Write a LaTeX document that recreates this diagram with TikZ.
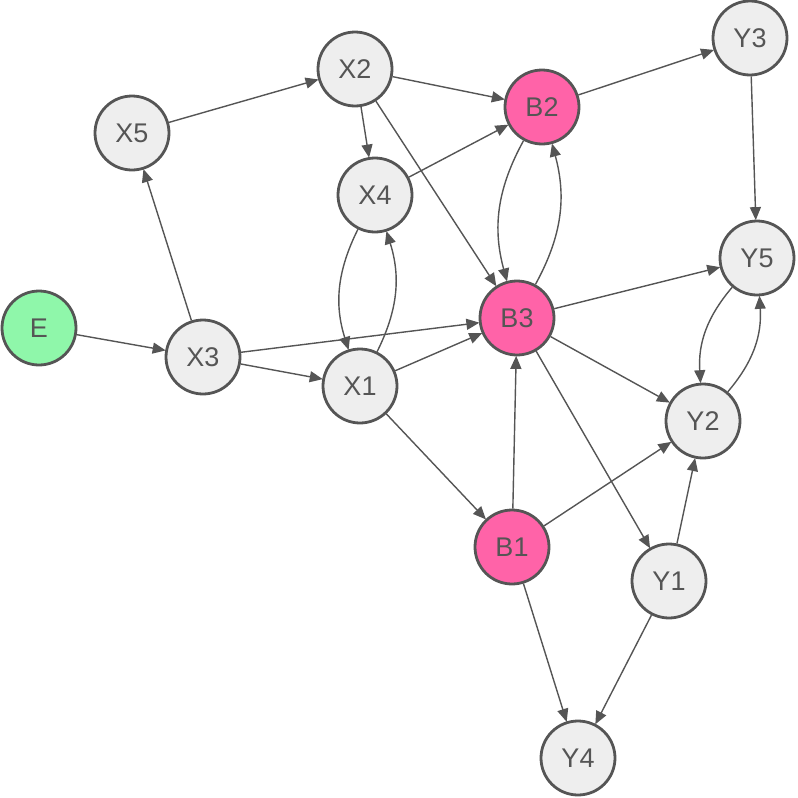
\documentclass[tikz,border=0pt]{standalone}
\usepackage{fontspec}
\setmainfont{Liberation Sans}
\usetikzlibrary{arrows.meta}
\definecolor{edgec}{HTML}{555555}
\definecolor{grayfill}{HTML}{EEEEEE}
\definecolor{pinkfill}{HTML}{FF63A8}
\definecolor{greenfill}{HTML}{8FF7AA}
\tikzset{
  vnode/.style={circle, draw=edgec, line width=2.8pt, minimum size=74pt, inner sep=0pt, fill=grayfill, text=edgec, font=\fontsize{27}{27}\selectfont},
  pnode/.style={vnode, fill=pinkfill},
  gnode/.style={vnode, fill=greenfill},
  arr/.style={draw=edgec, line width=1.4pt, -{Triangle[length=13pt,width=11pt]}, shorten >=-0.5pt},
}
\begin{document}
\begin{tikzpicture}[x=1pt,y=1pt]
\useasboundingbox (0,0) rectangle (798,-798);
\node[gnode] (E) at (39,-328) {E};
\node[vnode] (X3) at (203,-357) {X3};
\node[vnode] (X5) at (132,-133) {X5};
\node[vnode] (X2) at (355,-69) {X2};
\node[vnode] (X4) at (375,-195) {X4};
\node[vnode] (X1) at (360,-386) {X1};
\node[pnode] (B2) at (542,-107) {B2};
\node[pnode] (B3) at (517,-318) {B3};
\node[pnode] (B1) at (512,-547) {B1};
\node[vnode] (Y3) at (750,-38) {Y3};
\node[vnode] (Y5) at (757,-258) {Y5};
\node[vnode] (Y2) at (703,-421) {Y2};
\node[vnode] (Y1) at (669,-581) {Y1};
\node[vnode] (Y4) at (578,-758) {Y4};
\draw[arr] (E) -- (X3);
\draw[arr] (X3) -- (X5);
\draw[arr] (X3) -- (B3);
\draw[arr] (X3) -- (X1);
\draw[arr] (X5) -- (X2);
\draw[arr] (X2) -- (B2);
\draw[arr] (X2) -- (X4);
\draw[arr] (X2) -- (B3);
\draw[arr] (X4) -- (B2);
\draw[arr] (X4) to[bend right=22] (X1);
\draw[arr] (X1) to[bend right=22] (X4);
\draw[arr] (X1) -- (B3);
\draw[arr] (X1) -- (B1);
\draw[arr] (B2) to[bend right=22] (B3);
\draw[arr] (B3) to[bend right=22] (B2);
\draw[arr] (B2) -- (Y3);
\draw[arr] (B3) -- (Y5);
\draw[arr] (B3) -- (Y2);
\draw[arr] (B3) -- (Y1);
\draw[arr] (B1) -- (B3);
\draw[arr] (B1) -- (Y2);
\draw[arr] (B1) -- (Y4);
\draw[arr] (Y1) -- (Y2);
\draw[arr] (Y1) -- (Y4);
\draw[arr] (Y3) -- (Y5);
\draw[arr] (Y5) to[bend right=22] (Y2);
\draw[arr] (Y2) to[bend right=22] (Y5);
\end{tikzpicture}
\end{document}
